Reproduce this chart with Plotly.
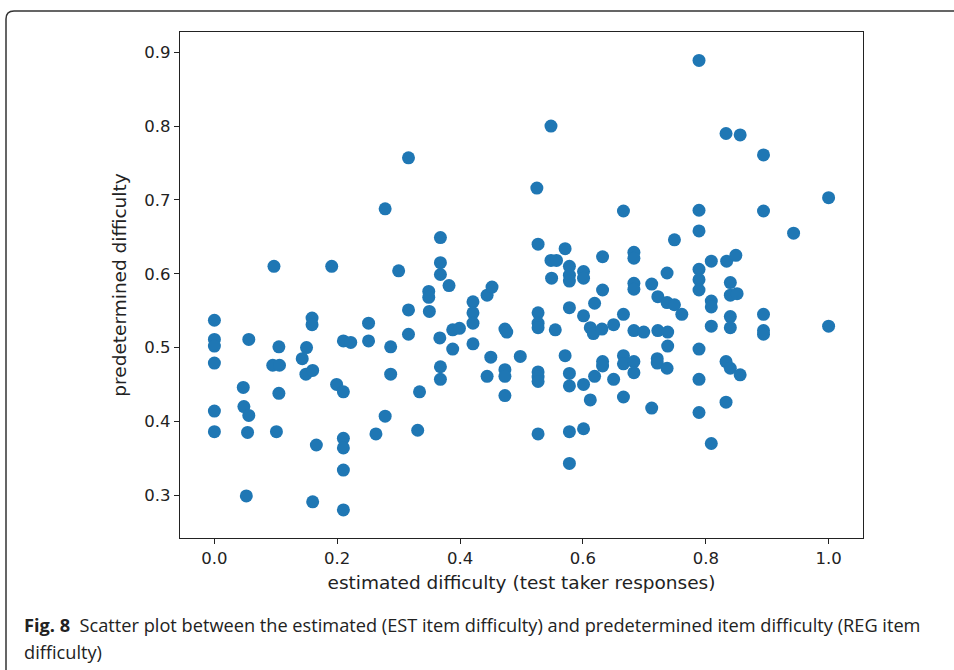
import plotly.graph_objects as go

est = [0.0, 0.0, 0.0, 0.0, 0.0, 0.0, 0.047, 0.048, 0.056, 0.054, 0.052, 0.056,
       0.097, 0.095, 0.106, 0.105, 0.105, 0.101, 0.150, 0.143, 0.149, 0.160, 0.159, 0.159,
       0.166, 0.160, 0.191, 0.199, 0.210, 0.210, 0.222, 0.210, 0.210, 0.210, 0.210,
       0.251, 0.251, 0.263, 0.278, 0.287, 0.287, 0.316, 0.316, 0.334, 0.331, 0.300,
       0.278, 0.316, 0.368, 0.368, 0.368, 0.382, 0.349, 0.349, 0.350, 0.367, 0.388,
       0.399, 0.388, 0.421, 0.421, 0.421, 0.421, 0.444, 0.452, 0.368, 0.368, 0.450,
       0.444, 0.473, 0.476, 0.473, 0.473, 0.473, 0.498,
       0.789, 0.548, 0.833, 0.856, 0.894, 0.525, 1.0, 0.666, 0.789, 0.894, 0.789, 0.943,
       0.749, 0.527, 0.571, 0.548, 0.557, 0.578, 0.578, 0.578, 0.601, 0.601, 0.632,
       0.683, 0.683, 0.737, 0.789, 0.789, 0.789, 0.809, 0.834, 0.849, 0.549, 0.632,
       0.619, 0.578, 0.527, 0.527, 0.527, 0.555, 0.601, 0.612, 0.617, 0.631, 0.650,
       0.666, 0.683, 0.683, 0.712, 0.722, 0.737, 0.749, 0.761, 0.683, 0.699, 0.722,
       0.738, 0.738, 0.809, 0.809, 0.809, 0.840, 0.840, 0.851, 0.840, 0.840, 0.894,
       0.894, 0.894, 1.0, 0.789, 0.571, 0.578, 0.578, 0.601, 0.619, 0.612, 0.632,
       0.632, 0.650, 0.666, 0.666, 0.683, 0.683, 0.666, 0.712, 0.721, 0.721, 0.737,
       0.789, 0.789, 0.833, 0.840, 0.856, 0.833, 0.809, 0.527, 0.527, 0.527, 0.527,
       0.578, 0.601, 0.578]

pred = [0.537, 0.511, 0.502, 0.479, 0.414, 0.386, 0.446, 0.420, 0.408, 0.385, 0.299, 0.511,
        0.610, 0.476, 0.476, 0.501, 0.438, 0.386, 0.500, 0.485, 0.464, 0.469, 0.540, 0.531,
        0.368, 0.291, 0.610, 0.450, 0.440, 0.509, 0.507, 0.377, 0.364, 0.334, 0.280,
        0.533, 0.509, 0.383, 0.407, 0.501, 0.464, 0.551, 0.518, 0.440, 0.388, 0.604,
        0.688, 0.757, 0.649, 0.615, 0.599, 0.584, 0.576, 0.568, 0.549, 0.513, 0.524,
        0.526, 0.498, 0.562, 0.547, 0.533, 0.505, 0.571, 0.582, 0.474, 0.457, 0.487,
        0.461, 0.525, 0.521, 0.470, 0.461, 0.435, 0.488,
        0.889, 0.800, 0.790, 0.788, 0.761, 0.716, 0.703, 0.685, 0.686, 0.685, 0.658, 0.655,
        0.646, 0.640, 0.634, 0.618, 0.618, 0.610, 0.598, 0.590, 0.603, 0.594, 0.623,
        0.629, 0.621, 0.601, 0.606, 0.592, 0.578, 0.617, 0.617, 0.625, 0.594, 0.578,
        0.560, 0.554, 0.547, 0.533, 0.527, 0.524, 0.543, 0.527, 0.519, 0.525, 0.531,
        0.545, 0.587, 0.579, 0.586, 0.569, 0.561, 0.558, 0.545, 0.523, 0.521, 0.523,
        0.521, 0.502, 0.563, 0.555, 0.529, 0.588, 0.571, 0.573, 0.542, 0.527, 0.545,
        0.523, 0.518, 0.529, 0.498, 0.489, 0.465, 0.448, 0.450, 0.461, 0.429, 0.481,
        0.475, 0.457, 0.489, 0.478, 0.481, 0.466, 0.433, 0.418, 0.485, 0.479, 0.472,
        0.457, 0.412, 0.481, 0.472, 0.463, 0.426, 0.370, 0.467, 0.460, 0.454, 0.383,
        0.386, 0.390, 0.343]

x_ticks = [0.0, 0.2, 0.4, 0.6, 0.8, 1.0]
y_ticks = [0.3, 0.4, 0.5, 0.6, 0.7, 0.8, 0.9]
x_title = "estimated difficulty (test taker responses)"
y_title = "predetermined difficulty"
caption1 = "<b>Fig. 8</b>  Scatter plot between the estimated (EST item difficulty) and predetermined item difficulty (REG item"
caption2 = "difficulty)"

W, H = 954, 670
L, R, T, B = 180, 91, 32, 132
pw, ph = W - L - R, H - T - B

def px(x):
    return (x - L) / pw

def py(y):
    return (H - B - y) / ph

fig = go.Figure()
fig.add_trace(go.Scatter(x=est, y=pred, mode="markers",
                         marker=dict(color="#1f77b4", size=13, line=dict(width=0)),
                         hoverinfo="skip"))

axis_common = dict(showgrid=False, zeroline=False, showline=True, linecolor="#222",
                   linewidth=1.3, mirror=True, ticks="outside", ticklen=5, tickwidth=1.2,
                   tickcolor="#222", tickfont=dict(family="DejaVu Sans", size=16.5, color="#222"))

fig.update_layout(
    width=W, height=H,
    margin=dict(l=L, r=R, t=T, b=B),
    paper_bgcolor="white", plot_bgcolor="white",
    showlegend=False,
    xaxis=dict(range=[-0.056, 1.056], tickvals=x_ticks, tickformat=".1f",
               title=dict(text=x_title, font=dict(family="DejaVu Sans", size=18.5, color="#222"), standoff=9),
               **axis_common),
    yaxis=dict(range=[0.242, 0.9275], tickvals=y_ticks, tickformat=".1f",
               title=dict(text=y_title, font=dict(family="DejaVu Sans", size=18.5, color="#222"), standoff=12),
               **axis_common),
)

# figure frame (journal box): left + top edges with rounded corner
x0 = px(6); yt = py(11); yb = py(672); x1 = px(956)
rx = 8 / pw; ry = 8 / ph
fig.add_shape(type="path", xref="paper", yref="paper",
              path=f"M {x0},{yb} L {x0},{yt - ry} Q {x0},{yt} {x0 + rx},{yt} L {x1},{yt}",
              line=dict(color="#333", width=1.5))

fig.add_annotation(xref="paper", yref="paper", x=px(22), y=py(625), xanchor="left", yanchor="middle",
                   text=caption1, showarrow=False, align="left",
                   font=dict(family="Open Sans", size=18.2, color="#222"))
fig.add_annotation(xref="paper", yref="paper", x=px(22), y=py(652), xanchor="left", yanchor="middle",
                   text=caption2, showarrow=False, align="left",
                   font=dict(family="Open Sans", size=18.2, color="#222"))

fig.write_html("out.html")
